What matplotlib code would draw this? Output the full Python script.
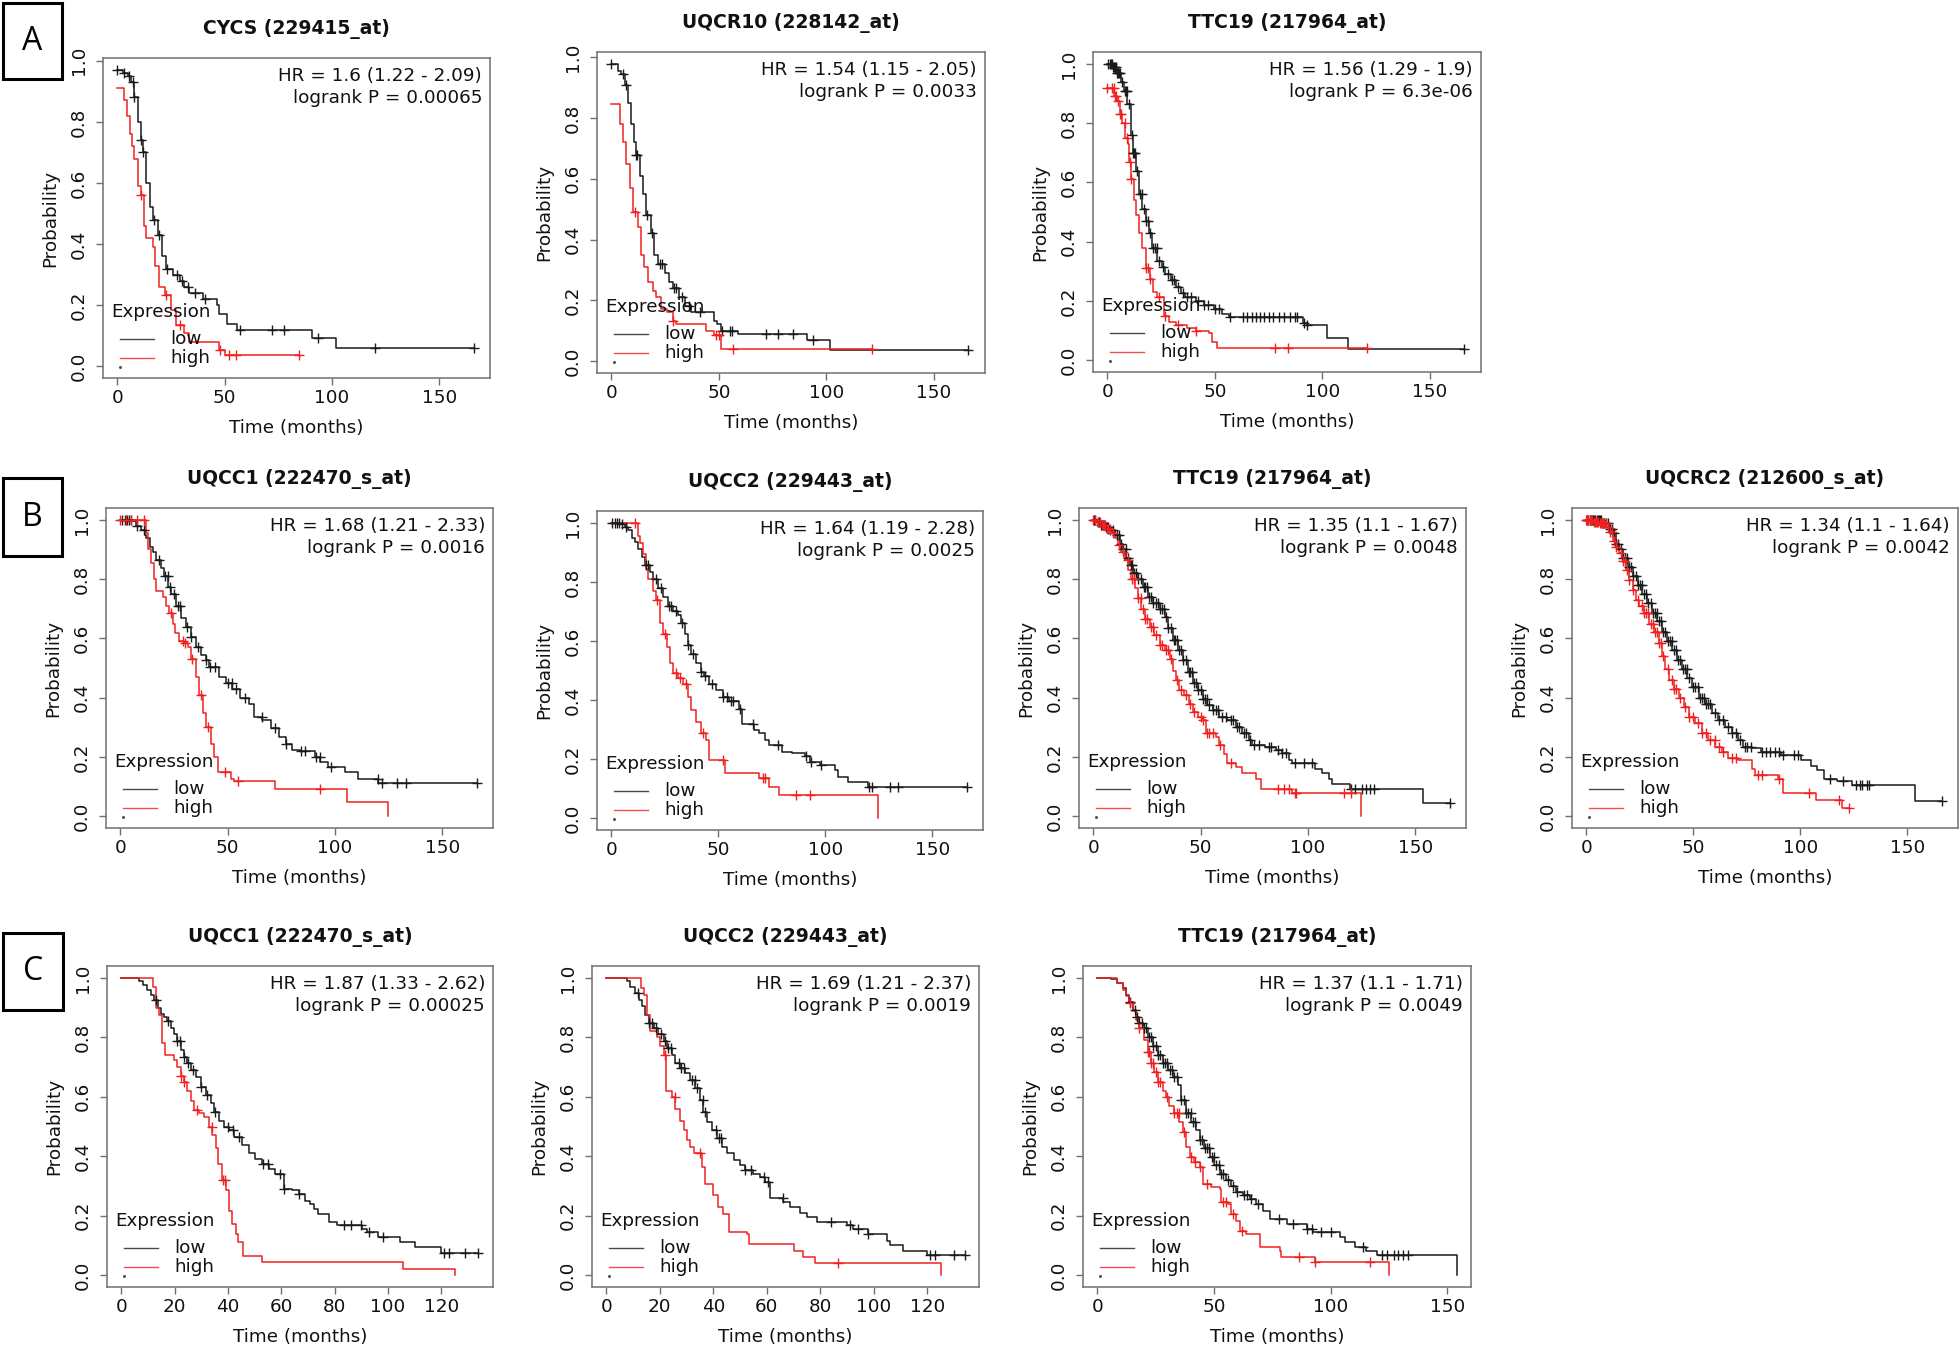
import numpy as np
import matplotlib
matplotlib.use("Agg")
import matplotlib.pyplot as plt
from matplotlib.lines import Line2D
from matplotlib.patches import Rectangle

# ---------------- data (Kaplan-Meier step curves) ----------------
# A1  CYCS (229415_at)
A1_LOW_T = [0, 2.5, 5, 6.5, 8, 9.5, 11, 12, 13.5, 15, 16.5, 19, 21, 22.7, 26, 29, 31, 33.5, 40, 46.5, 47.5, 51, 56, 90.5, 102]
A1_LOW_S = [0.97, 0.96, 0.95, 0.93, 0.88, 0.80, 0.74, 0.70, 0.60, 0.52, 0.48, 0.43, 0.36, 0.32, 0.30, 0.28, 0.26, 0.24, 0.22, 0.20, 0.17, 0.14, 0.12, 0.093, 0.06]
A1_LOW_C = [0, 3, 5.5, 7.5, 8, 11, 12, 17, 19.5, 23, 28, 30, 33, 36, 41, 57, 72, 77.5, 93.5, 120, 166]
A1_HIGH_T = [0, 3, 4.5, 5.7, 7, 8, 9.6, 11, 12.5, 13.4, 16.5, 17.5, 19.3, 22, 25, 27.3, 31, 33.5, 47.5, 50]
A1_HIGH_S = [0.91, 0.87, 0.82, 0.76, 0.72, 0.68, 0.59, 0.56, 0.46, 0.42, 0.39, 0.33, 0.26, 0.235, 0.185, 0.135, 0.11, 0.08, 0.055, 0.037]
A1_HIGH_C = [11, 22.5, 29, 48, 52, 55.5, 84.5]

# A2  UQCR10 (228142_at)
A2_LOW_T = [0, 3, 4.6, 6.2, 7.7, 9.2, 10.3, 11.6, 13.1, 14.6, 16.2, 18.5, 20, 21.6, 24.7, 27, 28.5, 31.6, 34, 37, 47.8, 49.3, 51, 59, 91, 101.7]
A2_LOW_S = [0.98, 0.956, 0.945, 0.91, 0.85, 0.78, 0.72, 0.68, 0.61, 0.55, 0.48, 0.42, 0.35, 0.32, 0.29, 0.26, 0.24, 0.21, 0.18, 0.16, 0.13, 0.12, 0.10, 0.09, 0.068, 0.035]
A2_LOW_C = [0, 5.5, 7, 11.6, 12, 16.5, 19, 22.5, 23.5, 29, 30, 33, 36, 41, 51.5, 55, 56, 72, 77.5, 84.5, 93.5, 166]
A2_HIGH_T = [0, 3.9, 5.4, 7, 8.5, 10, 12.3, 13.9, 15.4, 17, 19.3, 20.8, 23, 26, 28.5, 30, 44, 47.8, 51]
A2_HIGH_S = [0.848, 0.78, 0.72, 0.65, 0.57, 0.49, 0.44, 0.35, 0.31, 0.26, 0.23, 0.21, 0.17, 0.16, 0.13, 0.12, 0.10, 0.085, 0.04]
A2_HIGH_C = [11, 28.5, 48.5, 50, 56.5, 121]

# A3  TTC19 (217964_at)
A3_LOW_T = [0, 2.3, 4.2, 6.2, 7.7, 9.3, 10.8, 11.9, 13.1, 14.7, 16.2, 17.8, 19.3, 20.9, 23.2, 25.5, 27, 29.4, 31.7, 34, 36.3, 41, 44.8, 49.5, 53.3, 56.4, 91, 92.8, 102, 112]
A3_LOW_S = [1.0, 0.99, 0.97, 0.94, 0.91, 0.865, 0.76, 0.70, 0.64, 0.56, 0.51, 0.47, 0.43, 0.38, 0.335, 0.315, 0.29, 0.27, 0.247, 0.225, 0.213, 0.20, 0.185, 0.174, 0.157, 0.146, 0.124, 0.118, 0.076, 0.039]
A3_LOW_C = [0.5, 1, 1.5, 2, 2.5, 3, 3.5, 4, 4.5, 5, 5.5, 6, 7, 8, 8.5, 9, 10, 11.5, 12, 12.5, 13, 14, 15, 16, 17, 18, 19, 20, 21, 22, 23, 24, 26, 28, 30, 31, 33, 35, 37, 39, 42, 45, 47, 50, 52, 57, 63, 65, 67, 69, 71, 73, 75, 77, 80, 82, 85, 87, 88, 91.5, 93, 166]
A3_HIGH_T = [0, 3.1, 4.6, 5.7, 7, 8.2, 9.4, 10, 10.8, 12.4, 13.5, 14.7, 16.2, 17.8, 19.6, 21.2, 23.2, 26.3, 28.6, 31.7, 37.1, 41, 47.2, 48.7, 51]
A3_HIGH_S = [0.92, 0.89, 0.876, 0.83, 0.80, 0.75, 0.73, 0.67, 0.61, 0.54, 0.49, 0.43, 0.38, 0.31, 0.275, 0.23, 0.213, 0.15, 0.13, 0.118, 0.107, 0.10, 0.09, 0.06, 0.04]
A3_HIGH_C = [0, 2, 3, 3.5, 4, 5, 6, 6.5, 8, 9, 10.5, 11, 18, 19, 20, 24, 27, 33, 41, 78, 84, 120.6]

# B1  UQCC1 (222470_s_at)
B1_LOW_T = [0, 5.9, 7.4, 9.7, 11.3, 12, 13.6, 15.1, 16.7, 19, 20.5, 22.1, 23.6, 26, 28.3, 30.6, 32.9, 35.2, 37.5, 39.9, 41.4, 46, 49.1, 52.2, 56, 59.9, 62.3, 66.1, 70, 73.9, 77, 80, 83.9, 90.8, 93.2, 97, 104.7, 110.9, 120.2]
B1_LOW_S = [1.0, 0.995, 0.98, 0.966, 0.95, 0.94, 0.91, 0.89, 0.865, 0.836, 0.81, 0.775, 0.75, 0.71, 0.67, 0.64, 0.605, 0.57, 0.544, 0.527, 0.505, 0.47, 0.448, 0.43, 0.40, 0.38, 0.336, 0.324, 0.296, 0.268, 0.245, 0.223, 0.22, 0.20, 0.184, 0.167, 0.15, 0.127, 0.113]
B1_LOW_C = [1, 2, 3, 4, 5, 8, 11, 18, 21, 22, 23, 25, 27, 28, 31, 33, 36, 40, 42, 44, 50, 52, 54, 58, 66, 72, 77, 84, 86, 91, 93, 98, 120, 122, 129, 133, 166]
B1_HIGH_T = [0, 12, 13.1, 14.4, 15.9, 16.7, 19.8, 21.3, 22.9, 24.4, 25.6, 27.2, 29.8, 31.4, 32.9, 35.2, 36.5, 38.3, 39.9, 42.2, 43.7, 45.3, 51.4, 53, 72.3, 105.5, 124.8]
B1_HIGH_S = [1.0, 0.955, 0.90, 0.853, 0.80, 0.76, 0.74, 0.71, 0.685, 0.65, 0.617, 0.59, 0.583, 0.57, 0.53, 0.47, 0.41, 0.347, 0.30, 0.245, 0.20, 0.15, 0.127, 0.12, 0.09, 0.048, 0.0]
B1_HIGH_C = [0, 2.5, 5, 8, 11, 23.5, 29, 30, 33.5, 37.5, 41, 49, 55, 93]

# B2  UQCC2 (229443_at)
B2_LOW_T = [0, 4.2, 6.5, 8, 9.6, 11.1, 12.7, 14.2, 15.7, 18, 19.6, 21.9, 24.2, 26.5, 28.9, 31.2, 32.7, 34.3, 35.8, 37.3, 39.7, 42, 43.5, 45.8, 48.9, 52, 55.1, 59.7, 61.3, 66.7, 69, 72, 73.6, 79.8, 84.4, 90.6, 92.9, 97.5, 104.5, 106, 110.6, 119.9]
B2_LOW_S = [1.0, 0.997, 0.985, 0.974, 0.95, 0.935, 0.91, 0.884, 0.856, 0.833, 0.81, 0.78, 0.75, 0.72, 0.70, 0.687, 0.66, 0.625, 0.585, 0.557, 0.524, 0.495, 0.48, 0.455, 0.433, 0.41, 0.397, 0.37, 0.32, 0.30, 0.287, 0.264, 0.248, 0.225, 0.22, 0.21, 0.19, 0.18, 0.164, 0.14, 0.124, 0.105]
B2_LOW_C = [0.5, 1.5, 2.5, 3.5, 5, 7, 16, 17, 21, 23, 27, 28, 30, 33, 36, 38, 42, 44, 47, 52, 54, 56, 57, 60, 66, 78, 91, 93.5, 98, 120.5, 122, 130, 134, 166]
B2_HIGH_T = [0, 12.7, 13.4, 15, 16.2, 17.3, 19.6, 21.1, 22.7, 24.2, 25.8, 27.3, 28.9, 31.2, 33.5, 35.8, 37.3, 39.7, 42, 44.3, 45.8, 53, 69, 73.6, 78.2, 124.8]
B2_HIGH_S = [1.0, 0.957, 0.93, 0.895, 0.845, 0.81, 0.77, 0.74, 0.66, 0.625, 0.58, 0.524, 0.49, 0.473, 0.455, 0.41, 0.366, 0.327, 0.287, 0.265, 0.197, 0.152, 0.135, 0.107, 0.079, 0.0]
B2_HIGH_C = [11, 21.5, 25, 30, 32, 35, 43, 52, 71, 72, 86.5, 93]

# B3  TTC19 (217964_at)
B3_LOW_T = [0, 1.5, 3.1, 5.4, 7.7, 10, 12.3, 13.9, 15.4, 17, 18.5, 20.8, 23.1, 25.5, 27.8, 30.9, 33.2, 34.7, 37, 39.4, 41.7, 44, 46.3, 48.6, 50.9, 53.2, 55.6, 58.6, 62.5, 66.4, 69.4, 72.5, 74.1, 80.2, 84.9, 88, 91, 92.6, 103.4, 106.5, 109.6, 111, 119.6, 153.6]
B3_LOW_S = [1.0, 0.994, 0.983, 0.977, 0.966, 0.95, 0.92, 0.90, 0.87, 0.848, 0.82, 0.80, 0.775, 0.74, 0.72, 0.70, 0.673, 0.634, 0.595, 0.56, 0.527, 0.487, 0.45, 0.426, 0.397, 0.375, 0.358, 0.336, 0.324, 0.30, 0.28, 0.257, 0.24, 0.234, 0.223, 0.212, 0.19, 0.178, 0.16, 0.144, 0.127, 0.11, 0.09, 0.045]
B3_LOW_C = [0.5, 1, 2, 2.5, 3.5, 4, 4.5, 5, 6, 6.5, 7, 8, 9, 11, 12, 13, 14, 15, 16, 17.5, 18, 19, 20, 21, 22, 23.5, 24, 25, 26, 27, 28, 29, 30, 31, 32, 33, 34, 35, 36, 37.5, 38, 39, 40, 41, 42, 43, 44.5, 45, 46, 47, 48, 49, 50, 51, 52, 53, 54, 56, 57, 58, 60, 62, 64, 65, 67, 68, 70, 71, 73, 75, 77, 82, 83, 86, 88, 90, 94, 98, 102, 120, 122, 125, 127, 129, 131, 166]
B3_HIGH_T = [0, 1.5, 3.9, 6.2, 8.5, 10, 11.6, 13.1, 14.7, 16.2, 17.7, 19.3, 20.8, 22.4, 23.9, 26.2, 28.5, 30.9, 33.2, 35.5, 37, 38.6, 40.1, 42.4, 44.8, 46.3, 48.6, 50.9, 52.5, 57.1, 58.6, 60.9, 62.5, 66.4, 69.4, 75.6, 78, 92.6, 124.7]
B3_HIGH_S = [1.0, 0.994, 0.983, 0.97, 0.955, 0.94, 0.915, 0.893, 0.865, 0.83, 0.80, 0.77, 0.735, 0.70, 0.667, 0.64, 0.61, 0.578, 0.56, 0.53, 0.49, 0.46, 0.426, 0.41, 0.38, 0.35, 0.336, 0.324, 0.28, 0.268, 0.24, 0.21, 0.18, 0.167, 0.144, 0.127, 0.09, 0.077, 0.0]
B3_HIGH_C = [0, 1, 2, 3, 4, 4.5, 5, 5.5, 6.5, 7, 8, 9, 12, 14, 16, 18, 19, 21, 22, 23, 24, 25, 27, 28, 29, 31, 32, 34, 35, 36, 39, 41, 43, 45, 47, 50, 51, 53, 54, 56, 59, 64, 86, 89, 91, 94, 94.5, 117, 120]

# B4  UQCRC2 (212600_s_at)
B4_LOW_T = [0, 4.6, 7.7, 10.8, 12.3, 13.9, 15.4, 17, 19.3, 21.6, 24, 26.2, 28.5, 30.9, 33.2, 35.5, 37.8, 40.1, 42.4, 44.8, 47.1, 49.4, 52.5, 55.6, 58.6, 61.7, 64.8, 67.9, 71, 73.3, 77.2, 81.8, 91, 100.3, 104.9, 108, 111.1, 117.3, 124.2, 153.5]
B4_LOW_S = [1.0, 0.998, 0.99, 0.97, 0.955, 0.92, 0.90, 0.87, 0.84, 0.81, 0.78, 0.75, 0.72, 0.685, 0.657, 0.62, 0.59, 0.56, 0.527, 0.495, 0.467, 0.437, 0.40, 0.38, 0.347, 0.324, 0.30, 0.28, 0.257, 0.234, 0.23, 0.217, 0.206, 0.19, 0.17, 0.155, 0.127, 0.12, 0.105, 0.05]
B4_LOW_C = [0.5, 1, 1.5, 2, 2.5, 3, 3.5, 4, 5, 5.5, 6, 6.5, 7, 8, 8.5, 9, 10, 11, 12, 13, 14, 15, 16, 17, 18, 19, 20, 21, 22, 23, 24, 25, 26, 27, 28, 29, 30, 31, 32, 33, 34, 35, 36, 37, 38, 39, 40, 41, 42, 43, 44, 45, 46, 47, 48, 50, 51, 52, 53, 54, 55, 56, 57, 58, 60, 62, 64, 66, 68, 70, 72, 74, 75, 77, 82, 84, 86, 88, 90, 92, 97, 99, 114, 120, 126, 128, 129, 131, 132, 166]
B4_HIGH_T = [0, 3, 6.2, 9.3, 10.8, 12.3, 13.9, 15.4, 17, 18.5, 20, 21.6, 23.1, 24.7, 27, 29.3, 31.6, 34, 35.5, 37, 38.6, 40.9, 43.2, 45.5, 47.8, 50.9, 54, 57.1, 60.2, 63.3, 66.4, 71, 77.2, 78.7, 89.5, 91.8, 107.3, 119.6]
B4_HIGH_S = [1.0, 0.994, 0.99, 0.977, 0.96, 0.93, 0.91, 0.887, 0.86, 0.83, 0.797, 0.764, 0.73, 0.71, 0.685, 0.65, 0.62, 0.584, 0.54, 0.495, 0.46, 0.43, 0.40, 0.37, 0.336, 0.313, 0.28, 0.257, 0.234, 0.217, 0.195, 0.19, 0.16, 0.14, 0.127, 0.077, 0.054, 0.026]
B4_HIGH_C = [0, 0.5, 1, 1.5, 2, 2.5, 3.5, 4, 4.5, 5, 5.5, 6.5, 7, 7.5, 8, 8.5, 9, 10, 11, 12, 13, 14, 16, 17, 18, 19, 20, 22, 24, 26, 27, 28, 29, 30, 31, 32, 33, 34, 35, 36, 38, 40, 41, 42, 44, 46, 48, 50, 52, 54, 56, 58, 60, 62, 64, 68, 70, 80, 82, 90, 104, 118, 122.7]

# C1  UQCC1 (222470_s_at)
C1_LOW_T = [0, 4.2, 6.7, 8, 9.8, 11.1, 12.3, 13.6, 14.8, 16.1, 17.3, 18.5, 19.8, 21, 22.3, 23.5, 24.8, 26, 27.9, 29.8, 31.6, 33.5, 34.7, 36.6, 38.5, 40.3, 42.2, 45.3, 47.8, 50.3, 52.8, 55.3, 57.8, 60.9, 64, 66.5, 69, 70.8, 72.1, 73.9, 77.7, 80.8, 90.1, 92, 96.4, 104.4, 110, 120]
C1_LOW_S = [1.0, 0.998, 0.99, 0.977, 0.96, 0.944, 0.927, 0.90, 0.88, 0.87, 0.854, 0.83, 0.81, 0.786, 0.758, 0.735, 0.713, 0.69, 0.668, 0.634, 0.606, 0.578, 0.55, 0.52, 0.50, 0.488, 0.465, 0.437, 0.41, 0.39, 0.375, 0.358, 0.34, 0.29, 0.285, 0.274, 0.25, 0.24, 0.223, 0.206, 0.178, 0.167, 0.155, 0.144, 0.127, 0.11, 0.093, 0.073]
C1_LOW_C = [13, 17.5, 21, 22, 23.5, 25, 27, 30, 32, 35, 40, 42, 44, 53, 55, 59.5, 61, 66.5, 83.5, 86, 90, 93, 98, 121, 123, 129, 133.7]
C1_HIGH_T = [0, 11.7, 13, 14, 15.4, 16.4, 19.8, 21, 22.3, 23.5, 24.8, 26, 27.3, 29.1, 31, 32.9, 34.1, 35.4, 36.4, 37.6, 39.1, 40.3, 41.6, 43.1, 43.8, 45.6, 52.8, 105.7, 125]
C1_HIGH_S = [1.0, 0.97, 0.90, 0.876, 0.78, 0.74, 0.725, 0.70, 0.67, 0.65, 0.62, 0.585, 0.555, 0.544, 0.533, 0.50, 0.47, 0.426, 0.375, 0.32, 0.285, 0.217, 0.172, 0.138, 0.11, 0.065, 0.043, 0.02, 0.0]
C1_HIGH_C = [22.5, 23.5, 28.5, 34, 38, 39]

# C2  UQCC2 (229443_at)
C2_LOW_T = [0, 4.6, 7.7, 9, 10.8, 12.1, 13.3, 14.6, 15.8, 17.7, 19.5, 21.4, 22.7, 24.5, 25.8, 27.6, 29.5, 31.4, 33.2, 35.1, 36.3, 37.6, 39.5, 41.3, 43.2, 45.1, 47.6, 50, 51.9, 55, 57.5, 59.4, 61.2, 66.2, 68.7, 72.5, 74.9, 78.7, 89.9, 92.4, 98, 104.8, 106, 111, 119.8]
C2_LOW_S = [1.0, 0.998, 0.99, 0.97, 0.95, 0.927, 0.904, 0.876, 0.848, 0.83, 0.81, 0.786, 0.763, 0.74, 0.713, 0.696, 0.68, 0.657, 0.628, 0.59, 0.55, 0.516, 0.488, 0.46, 0.43, 0.41, 0.386, 0.37, 0.353, 0.34, 0.33, 0.313, 0.26, 0.245, 0.228, 0.21, 0.195, 0.178, 0.167, 0.155, 0.138, 0.116, 0.10, 0.082, 0.069]
C2_LOW_C = [12, 16, 17, 18.5, 20.5, 22, 23, 24, 27, 28, 29, 32, 33, 34, 36, 37, 41, 42, 43, 52, 54, 59, 60.5, 66, 84, 91, 94, 98, 121, 123, 130, 134]
C2_HIGH_T = [0, 13, 14.2, 15.2, 16.4, 18.9, 20.2, 21.4, 22.4, 24.5, 25.8, 27.4, 28.9, 30.1, 31.4, 32.6, 35.7, 36.9, 39.8, 41.9, 43.8, 45.7, 52.5, 53.5, 70, 73.4, 78, 125]
C2_HIGH_S = [1.0, 0.966, 0.944, 0.876, 0.82, 0.80, 0.77, 0.74, 0.62, 0.60, 0.56, 0.52, 0.488, 0.453, 0.43, 0.41, 0.364, 0.307, 0.268, 0.228, 0.206, 0.144, 0.138, 0.105, 0.082, 0.06, 0.04, 0.0]
C2_HIGH_C = [22, 25.5, 35, 86.5]

# C3  TTC19 (217964_at)
C3_LOW_T = [0, 5.7, 8.6, 10.8, 12.2, 13.6, 15.1, 16.5, 17.9, 19.4, 21.5, 23.7, 25.8, 28, 30.1, 32.3, 34.4, 35.9, 38, 40.2, 42.3, 43.8, 45.9, 48.1, 50.2, 52.4, 55.3, 57.4, 59.6, 62.4, 65.3, 68.2, 71, 73.9, 81.1, 89.7, 92.6, 104, 106.2, 110.5, 115, 120, 154.3]
C3_LOW_S = [1.0, 0.997, 0.983, 0.966, 0.944, 0.92, 0.893, 0.87, 0.848, 0.83, 0.80, 0.77, 0.74, 0.713, 0.69, 0.668, 0.64, 0.59, 0.544, 0.516, 0.488, 0.453, 0.426, 0.397, 0.37, 0.34, 0.32, 0.30, 0.28, 0.268, 0.257, 0.24, 0.217, 0.19, 0.172, 0.155, 0.144, 0.127, 0.11, 0.093, 0.082, 0.069, 0.0]
C3_LOW_C = [14, 16, 17, 18, 19, 20, 21, 22, 23, 24, 25, 26, 27, 28, 29, 30, 31, 32, 33, 34, 36, 37, 38, 39, 40, 41, 42, 44, 45, 46, 47, 48, 49, 50, 51, 52, 53, 54, 56, 58, 60, 63, 64, 66, 69, 78, 84, 90, 92, 96, 100, 114, 122, 124, 127, 129, 131, 133]
C3_HIGH_T = [0, 8.6, 10.8, 12.2, 13.6, 15.1, 16.5, 17.9, 20.1, 21.5, 23, 24.4, 25.8, 28, 29.4, 30.9, 33, 35.2, 36.6, 38, 39.5, 41.6, 43.8, 45.2, 48.8, 52.4, 53.1, 56, 57.4, 59.6, 61, 63.9, 69.6, 78.2, 78.9, 93.3, 124.9]
C3_HIGH_S = [1.0, 0.983, 0.96, 0.94, 0.915, 0.89, 0.86, 0.83, 0.79, 0.75, 0.713, 0.685, 0.65, 0.62, 0.60, 0.57, 0.544, 0.516, 0.48, 0.43, 0.397, 0.38, 0.364, 0.307, 0.296, 0.29, 0.245, 0.24, 0.206, 0.183, 0.15, 0.138, 0.093, 0.082, 0.06, 0.045, 0.0]
C3_HIGH_C = [14, 18, 21.5, 22, 23, 24, 25, 26, 27, 30, 33, 34, 35, 37, 40, 42, 44, 47, 54, 55, 58, 62, 86.5, 93.3, 117]

TITLES = ["CYCS (229415_at)", "UQCR10 (228142_at)", "TTC19 (217964_at)",
          "UQCC1 (222470_s_at)", "UQCC2 (229443_at)", "TTC19 (217964_at)", "UQCRC2 (212600_s_at)",
          "UQCC1 (222470_s_at)", "UQCC2 (229443_at)", "TTC19 (217964_at)"]
HR_TEXT = ["HR = 1.6 (1.22 - 2.09)", "HR = 1.54 (1.15 - 2.05)", "HR = 1.56 (1.29 - 1.9)",
           "HR = 1.68 (1.21 - 2.33)", "HR = 1.64 (1.19 - 2.28)", "HR = 1.35 (1.1 - 1.67)", "HR = 1.34 (1.1 - 1.64)",
           "HR = 1.87 (1.33 - 2.62)", "HR = 1.69 (1.21 - 2.37)", "HR = 1.37 (1.1 - 1.71)"]
P_TEXT = ["logrank P = 0.00065", "logrank P = 0.0033", "logrank P = 6.3e-06",
          "logrank P = 0.0016", "logrank P = 0.0025", "logrank P = 0.0048", "logrank P = 0.0042",
          "logrank P = 0.00025", "logrank P = 0.0019", "logrank P = 0.0049"]
LEGEND_TITLE = "Expression"
GROUP_LABELS = ["low", "high"]
X_LABEL = "Time (months)"
Y_LABEL = "Probability"
Y_TICKS = [0.0, 0.2, 0.4, 0.6, 0.8, 1.0]
X_TICKS_150 = [0, 50, 100, 150]
X_TICKS_120 = [0, 20, 40, 60, 80, 100, 120]
PANEL_LETTERS = ["A", "B", "C"]

LOW = [(A1_LOW_T, A1_LOW_S, A1_LOW_C), (A2_LOW_T, A2_LOW_S, A2_LOW_C), (A3_LOW_T, A3_LOW_S, A3_LOW_C),
       (B1_LOW_T, B1_LOW_S, B1_LOW_C), (B2_LOW_T, B2_LOW_S, B2_LOW_C), (B3_LOW_T, B3_LOW_S, B3_LOW_C),
       (B4_LOW_T, B4_LOW_S, B4_LOW_C), (C1_LOW_T, C1_LOW_S, C1_LOW_C), (C2_LOW_T, C2_LOW_S, C2_LOW_C),
       (C3_LOW_T, C3_LOW_S, C3_LOW_C)]
HIGH = [(A1_HIGH_T, A1_HIGH_S, A1_HIGH_C), (A2_HIGH_T, A2_HIGH_S, A2_HIGH_C), (A3_HIGH_T, A3_HIGH_S, A3_HIGH_C),
        (B1_HIGH_T, B1_HIGH_S, B1_HIGH_C), (B2_HIGH_T, B2_HIGH_S, B2_HIGH_C), (B3_HIGH_T, B3_HIGH_S, B3_HIGH_C),
        (B4_HIGH_T, B4_HIGH_S, B4_HIGH_C), (C1_HIGH_T, C1_HIGH_S, C1_HIGH_C), (C2_HIGH_T, C2_HIGH_S, C2_HIGH_C),
        (C3_HIGH_T, C3_HIGH_S, C3_HIGH_C)]

# ---------------- layout (pixels in the 1960x1346 canvas) ----------------
W, H, DPI = 1960, 1346, 100
RECTS = [(103, 490, 58, 378), (597, 985, 52, 373), (1093, 1481, 52, 372),
         (106, 493, 508, 828), (597, 983, 511, 830), (1079, 1466, 508, 828), (1572, 1958, 508, 828),
         (107, 493, 966, 1287), (592, 979, 966, 1287), (1083, 1471, 966, 1287)]
XLIMS = [(-6.68, 173.68)] * 7 + [(-5.36, 139.36), (-5.36, 139.36), (-6.16, 160.16)]
XTICKS = [X_TICKS_150] * 7 + [X_TICKS_120, X_TICKS_120, X_TICKS_150]
YLIMS = [(-0.038, 1.009), (-0.04, 1.018)] + [(-0.04, 1.04)] * 8
LETTER_BOXES = [(3, 62, 3, 79), (3, 62, 478, 556), (3, 63, 933, 1010)]

BOX_COL = "#707070"
LOW_COL = "#1a1a1a"
HIGH_COL = "#f02020"
FS = 13.2

plt.rcParams["font.family"] = ["DejaVu Sans"]
fig = plt.figure(figsize=(W / DPI, H / DPI), dpi=DPI)
fig.patch.set_facecolor("white")


def fx(x):
    return x / W


def fy(y):
    return 1 - y / H


def km(ax, t, s, c, color):
    t = np.asarray(t, float)
    s = np.asarray(s, float)
    c = np.asarray(c, float)
    end = max(t[-1], c.max()) if len(c) else t[-1]
    ax.step(np.append(t, end), np.append(s, s[-1]), where="post", color=color, lw=1.1, zorder=3)
    idx = np.searchsorted(t, c, side="right") - 1
    ax.plot(c, s[idx], ls="none", marker="+", ms=7, mew=1.0, color=color, zorder=4)


for i in range(10):
    l, r, t, b = RECTS[i]
    ax = fig.add_axes([fx(l), fy(b), (r - l) / W, (b - t) / H])
    km(ax, *LOW[i], LOW_COL)
    km(ax, *HIGH[i], HIGH_COL)
    ax.set_xlim(*XLIMS[i])
    ax.set_ylim(*YLIMS[i])
    ax.set_xticks(XTICKS[i])
    ax.set_xticklabels([str(v) for v in XTICKS[i]])
    ax.set_yticks(Y_TICKS)
    ax.set_yticklabels(["%.1f" % v for v in Y_TICKS], rotation=90, va="center")
    for sp in ax.spines.values():
        sp.set_color(BOX_COL)
        sp.set_linewidth(1.1)
    ax.tick_params(direction="out", length=5, width=1.0, color=BOX_COL,
                   labelsize=FS, labelcolor="#111111")
    ax.tick_params(axis="x", pad=3)
    ax.tick_params(axis="y", pad=6)

    cx = (l + r) / 2
    fig.text(fx(cx), fy(t - 29), TITLES[i], ha="center", va="center",
             fontsize=13.5, fontweight="bold", color="#111111")
    fig.text(fx(r - 8), fy(t + 18), HR_TEXT[i], ha="right", va="center", fontsize=FS, color="#111111")
    fig.text(fx(r - 8), fy(t + 40), P_TEXT[i], ha="right", va="center", fontsize=FS, color="#111111")
    fig.text(fx(cx), fy(b + 50), X_LABEL, ha="center", va="center", fontsize=FS, color="#111111")
    fig.text(fx(l - 53), fy((t + b) / 2), Y_LABEL, ha="center", va="center", rotation=90,
             fontsize=FS, color="#111111")
    # legend (R style, no frame)
    fig.text(fx(l + 8), fy(b - 66), LEGEND_TITLE, ha="left", va="center", fontsize=FS, color="#111111")
    for k, (col, yy) in enumerate([(LOW_COL, b - 39), (HIGH_COL, b - 20)]):
        fig.add_artist(Line2D([fx(l + 17), fx(l + 51)], [fy(yy), fy(yy)], color=col, lw=1.0,
                              alpha=0.8, transform=fig.transFigure))
        fig.text(fx(l + 67), fy(yy), GROUP_LABELS[k], ha="left", va="center", fontsize=FS, color="#111111")
    fig.add_artist(Line2D([fx(l + 17)], [fy(b - 11)], ls="none", marker="o", ms=1.2,
                          color="#555555", transform=fig.transFigure))

for (l, r, t, b), letter in zip(LETTER_BOXES, PANEL_LETTERS):
    fig.add_artist(Rectangle((fx(l), fy(b)), (r - l) / W, (b - t) / H, fill=False, lw=2.2,
                             edgecolor="black", transform=fig.transFigure))
    fig.text(fx((l + r) / 2), fy((t + b) / 2), letter, ha="center", va="center", fontsize=23,
             family=["Open Sans", "DejaVu Sans"], color="black")

fig.savefig("out.png", dpi=DPI, facecolor="white")
